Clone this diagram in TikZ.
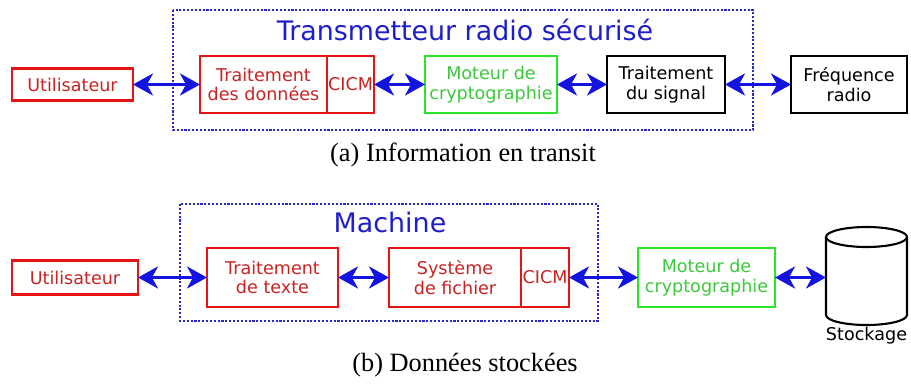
\documentclass[tikz,border=0pt]{standalone}
\usepackage{fontspec}
\setmainfont{Liberation Serif}
\newfontfamily\boxfont{DejaVu Sans}
\usetikzlibrary{arrows.meta}
\definecolor{boxred}{RGB}{230,20,20}
\definecolor{txtred}{RGB}{200,35,35}
\definecolor{boxgreen}{RGB}{40,230,40}
\definecolor{txtgreen}{RGB}{60,200,60}
\definecolor{arrblue}{RGB}{20,20,225}
\definecolor{dotblue}{RGB}{40,40,200}
\definecolor{titleblue}{RGB}{30,30,205}
\begin{document}
\begin{tikzpicture}[x=0.02cm,y=-0.02cm,
    blk/.style={draw,line width=1.6pt,inner sep=0pt,outer sep=0pt,align=center,
                font=\boxfont\fontsize{10}{11}\selectfont,minimum height=1.14cm},
    redblk/.style={blk,draw=boxred,text=txtred},
    greenblk/.style={blk,draw=boxgreen,text=txtgreen},
    blackblk/.style={blk,draw=black,line width=1.2pt},
    link/.style={arrblue,line width=1.7pt,
                 {Stealth[length=4mm,width=4.4mm,inset=1.2mm]}-{Stealth[length=4mm,width=4.4mm,inset=1.2mm]}},
    dotframe/.style={draw=dotblue,line width=1.2pt,densely dotted},
    boxtitle/.style={font=\boxfont\fontsize{15.3}{18}\selectfont,text=titleblue},
    caption/.style={font=\fontsize{15}{18}\selectfont}]
  \useasboundingbox (0,0) rectangle (911,388);
  \draw[dotframe] (173,10) rectangle (753,130);
  \node[boxtitle] (titlea) at (465,30) {Transmetteur radio sécurisé};
  \node[redblk,minimum width=2.42cm,minimum height=0.64cm] (ua) at (72.5,84.5) {Utilisateur};
  \node[redblk,minimum width=2.54cm] (tda) at (263.5,84.5) {Traitement\\des données};
  \node[redblk,minimum width=0.94cm] (cicma) at (350.5,84.5) {CICM};
  \node[greenblk,minimum width=2.64cm] (moteura) at (491,84.5) {Moteur de\\cryptographie};
  \node[blackblk,minimum width=2.36cm] (signal) at (666,84.5) {Traitement\\du signal};
  \node[blackblk,minimum width=2.32cm] (freq) at (849,84.5) {Fréquence\\radio};
  \draw[link] (ua) -- (tda);
  \draw[link] (cicma) -- (moteura);
  \draw[link] (moteura) -- (signal);
  \draw[link] (signal) -- (freq);
  \node[caption] (capa) at (463,155) {(a) Information en transit};

  \draw[dotframe] (180,204) rectangle (598,321);
  \node[boxtitle] (titleb) at (390,222) {Machine};
  \node[redblk,minimum width=2.52cm,minimum height=0.68cm] (ub) at (75,277.5) {Utilisateur};
  \node[redblk,minimum width=2.62cm,minimum height=1.18cm] (ttb) at (272.5,277.5) {Traitement\\de texte};
  \node[redblk,minimum width=2.64cm,minimum height=1.18cm] (sfb) at (455,277.5) {Système\\de fichier};
  \node[redblk,minimum width=0.96cm,minimum height=1.18cm] (cicmb) at (545,277.5) {CICM};
  \node[greenblk,minimum width=2.74cm,minimum height=1.18cm] (moteurb) at (706.5,277.5) {Moteur de\\cryptographie};
  \draw[line width=1.2pt] (826,237) -- (826,315) arc[start angle=180,end angle=360,x radius=0.81cm,y radius=0.2cm] -- (907,237);
  \draw[line width=1.2pt] (866.5,237) ellipse[x radius=0.81cm,y radius=0.2cm];
  \coordinate (stock) at (826,277.5);
  \node[font=\boxfont\fontsize{10}{11}\selectfont] (stocklbl) at (866.5,336) {Stockage};
  \draw[link] (ub) -- (ttb);
  \draw[link] (ttb) -- (sfb);
  \draw[link] (cicmb) -- (moteurb);
  \draw[link] (moteurb) -- (stock);
  \node[caption] (capb) at (465,365) {(b) Données stockées};
\end{tikzpicture}
\end{document}
